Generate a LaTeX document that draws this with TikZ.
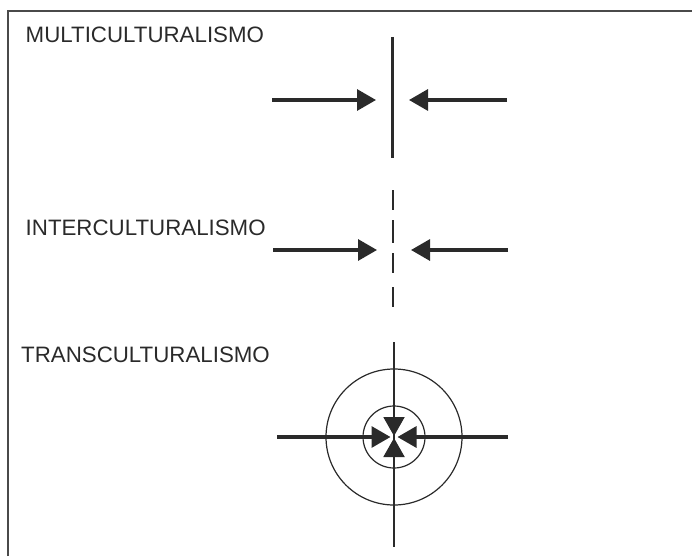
\documentclass[tikz,border=0pt]{standalone}
\usepackage{fontspec}
\setmainfont{Liberation Sans}
\usetikzlibrary{arrows.meta}
\definecolor{ink}{HTML}{2A2A2A}
\tikzset{
  label/.style={anchor=base west, inner sep=0pt, text=ink, font=\fontsize{22.3}{24}\selectfont},
  frameline/.style={draw=ink!85, line width=1.4pt},
  barline/.style={draw=ink, line width=2.6pt},
  thinbar/.style={draw=ink, line width=2pt},
  push/.style={draw=ink, line width=3.2pt, -{Triangle[length=19pt,width=21pt]}},
  vpush/.style={draw=ink, line width=2pt, -{Triangle[length=19pt,width=21pt]}},
  ring/.style={draw=ink, line width=1.2pt}
}
\begin{document}
\begin{tikzpicture}[x=1pt,y=-1pt]
\useasboundingbox (0,0) rectangle (692,556);
% frame
\coordinate (fbl) at (8,556);
\coordinate (ftl) at (8,11);
\coordinate (ftr) at (692,11);
\draw[frameline] (fbl) -- (ftl) -- (ftr);
% labels
\node[label] (multi) at (25.5,43) {MULTICULTURALISMO};
\node[label] (inter) at (25.5,235) {INTERCULTURALISMO};
\node[label] (trans) at (21,362) {TRANSCULTURALISMO};
% section 1
\coordinate (m1top) at (392.5,37);
\coordinate (m1bot) at (392.5,158);
\draw[barline] (m1top) -- (m1bot);
\coordinate (m1l) at (272,100);
\coordinate (m1lt) at (376,100);
\coordinate (m1r) at (507,100);
\coordinate (m1rt) at (409,100);
\draw[push] (m1l) -- (m1lt);
\draw[push] (m1r) -- (m1rt);
% section 2
\foreach \a/\b [count=\i] in {190/210,220/243,253/273,287/307}{
  \coordinate (d\i a) at (393,\a);
  \coordinate (d\i b) at (393,\b);
  \draw[barline] (d\i a) -- (d\i b);
}
\coordinate (m2l) at (273,250);
\coordinate (m2lt) at (377,250);
\coordinate (m2r) at (508,250);
\coordinate (m2rt) at (411,250);
\draw[push] (m2l) -- (m2lt);
\draw[push] (m2r) -- (m2rt);
% section 3
\coordinate (c) at (394,437);
\draw[ring] (c) circle[radius=68];
\draw[ring] (c) circle[radius=31];
\coordinate (m3top) at (394,342);
\coordinate (m3bot) at (394,547);
\draw[thinbar] (m3top) -- (m3bot);
\coordinate (m3l) at (277,437);
\coordinate (m3lt) at (390.5,437);
\coordinate (m3r) at (508,437);
\coordinate (m3rt) at (397.5,437);
\draw[push] (m3l) -- (m3lt);
\draw[push] (m3r) -- (m3rt);
\coordinate (m3u) at (394,405);
\coordinate (m3ut) at (394,436);
\coordinate (m3d) at (394,470);
\coordinate (m3dt) at (394,438);
\draw[vpush] (m3u) -- (m3ut);
\draw[vpush] (m3d) -- (m3dt);
\end{tikzpicture}
\end{document}
